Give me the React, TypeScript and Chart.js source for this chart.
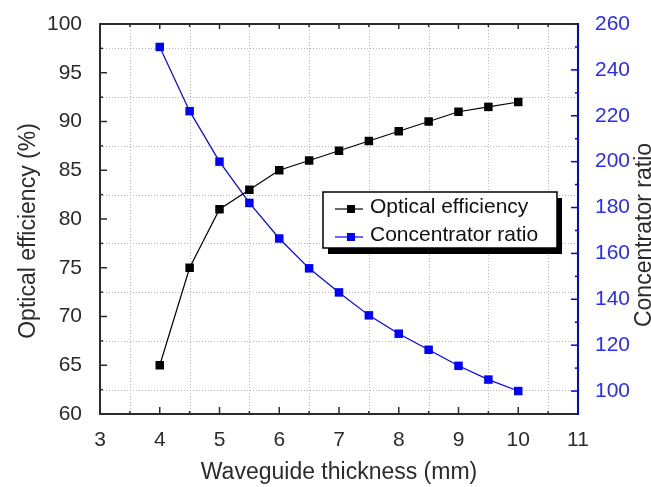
import React, { useEffect, useRef } from "react";
import { Chart, registerables } from "chart.js";

Chart.register(...registerables);

// ---- data ----
const thickness = [4, 4.5, 5, 5.5, 6, 6.5, 7, 7.5, 8, 8.5, 9, 9.5, 10];
const opticalEfficiency = [65, 75, 81, 83, 85, 86, 87, 88, 89, 90, 91, 91.5, 92];
const concentratorRatio = [250, 222, 200, 182, 166.5, 153.5, 143, 133, 125, 118, 111, 105, 100];

const xTickValues = [3, 4, 5, 6, 7, 8, 9, 10, 11];
const leftTickValues = [60, 65, 70, 75, 80, 85, 90, 95, 100];
const rightTickValues = [100, 120, 140, 160, 180, 200, 220, 240, 260];

const xTitle = "Waveguide thickness (mm)";
const leftTitle = "Optical efficiency (%)";
const rightTitle = "Concentrator ratio";
const seriesNames = ["Optical efficiency", "Concentrator ratio"];

const FONT = "'Liberation Sans', Arial, sans-serif";
const BLUE = "#0000ff";
const BLUE_TEXT = "#2a2aff";
const DARK = "#2b2b2b";

const framePlugin = {
  id: "originFrame",
  beforeDatasetsDraw(chart: any) {
    const { ctx, chartArea: a, scales } = chart;
    const x = scales.x, y = scales.y, y2 = scales.y2;
    ctx.save();
    // dotted grid at minor positions
    ctx.strokeStyle = "#b8b8b8";
    ctx.lineWidth = 1;
    ctx.setLineDash([1, 2]);
    for (let v = 3.5; v < 11; v += 1) {
      const px = Math.round(x.getPixelForValue(v)) + 0.5;
      ctx.beginPath(); ctx.moveTo(px, a.top); ctx.lineTo(px, a.bottom); ctx.stroke();
    }
    for (let v = 62.5; v < 100; v += 5) {
      const py = Math.round(y.getPixelForValue(v)) + 0.5;
      ctx.beginPath(); ctx.moveTo(a.left, py); ctx.lineTo(a.right, py); ctx.stroke();
    }
    ctx.setLineDash([]);
    // ticks (inward)
    ctx.strokeStyle = DARK;
    ctx.lineWidth = 1.5;
    for (let v = 3; v <= 11; v += 0.5) {
      const px = x.getPixelForValue(v);
      const major = Number.isInteger(v);
      ctx.beginPath(); ctx.moveTo(px, a.bottom); ctx.lineTo(px, a.bottom - (major ? 7 : 3)); ctx.stroke();
      ctx.beginPath(); ctx.moveTo(px, a.top); ctx.lineTo(px, a.top + (major ? 5 : 3)); ctx.stroke();
    }
    for (let v = 60; v <= 100; v += 2.5) {
      const py = y.getPixelForValue(v);
      const major = v % 5 === 0;
      ctx.beginPath(); ctx.moveTo(a.left, py); ctx.lineTo(a.left + (major ? 7 : 3), py); ctx.stroke();
    }
    ctx.strokeStyle = BLUE;
    for (let v = 90; v <= 260; v += 10) {
      const py = y2.getPixelForValue(v);
      const major = v % 20 === 0;
      ctx.beginPath(); ctx.moveTo(a.right, py); ctx.lineTo(a.right - (major ? 7 : 3), py); ctx.stroke();
    }
    // frame
    ctx.strokeStyle = DARK;
    ctx.lineWidth = 2;
    ctx.beginPath();
    ctx.moveTo(a.right, a.top);
    ctx.lineTo(a.left, a.top);
    ctx.lineTo(a.left, a.bottom);
    ctx.lineTo(a.right, a.bottom);
    ctx.stroke();
    ctx.strokeStyle = BLUE;
    ctx.beginPath();
    ctx.moveTo(a.right, a.top - 1);
    ctx.lineTo(a.right, a.bottom + 1);
    ctx.stroke();
    ctx.restore();
  },
  afterDraw(chart: any) {
    const { ctx, chartArea: a } = chart;
    ctx.save();
    // axis titles
    ctx.fillStyle = DARK;
    ctx.font = `23px ${FONT}`;
    ctx.textAlign = "center";
    ctx.textBaseline = "alphabetic";
    ctx.fillText(xTitle, (a.left + a.right) / 2, 479);
    ctx.save();
    ctx.translate(35, 231);
    ctx.rotate(-Math.PI / 2);
    ctx.fillText(leftTitle, 0, 0);
    ctx.restore();
    ctx.save();
    ctx.translate(651, 235);
    ctx.rotate(-Math.PI / 2);
    ctx.fillText(rightTitle, 0, 0);
    ctx.restore();

    // legend box with shadow
    const lx = 323, ly = 192, lw = 234, lh = 56;
    ctx.fillStyle = "#000";
    ctx.fillRect(lx + 5, ly + 6, lw, lh);
    ctx.fillStyle = "#fff";
    ctx.fillRect(lx, ly, lw, lh);
    ctx.strokeStyle = "#000";
    ctx.lineWidth = 1.5;
    ctx.strokeRect(lx, ly, lw, lh);
    const rows = [
      { name: seriesNames[0], color: "#000", yc: 209 },
      { name: seriesNames[1], color: BLUE, yc: 237 },
    ];
    rows.forEach((r) => {
      ctx.strokeStyle = r.color;
      ctx.lineWidth = 1.2;
      ctx.beginPath(); ctx.moveTo(335, r.yc); ctx.lineTo(363, r.yc); ctx.stroke();
      ctx.fillStyle = r.color;
      ctx.fillRect(347, r.yc - 4, 8, 8);
      ctx.fillStyle = "#111";
      ctx.font = `21px ${FONT}`;
      ctx.textAlign = "left";
      ctx.textBaseline = "middle";
      ctx.fillText(r.name, 370, r.yc - 2);
    });
    ctx.restore();
  },
};

export default function App() {
  const ref = useRef<HTMLCanvasElement | null>(null);
  useEffect(() => {
    document.body.style.margin = "0";
    const canvas = ref.current!;
    const chart = new Chart(canvas, {
      type: "line",
      data: {
        datasets: [
          {
            label: seriesNames[0],
            data: thickness.map((t, i) => ({ x: t, y: opticalEfficiency[i] })),
            borderColor: "#000",
            backgroundColor: "#000",
            borderWidth: 1.2,
            pointStyle: "rect",
            pointRadius: 6,
            pointBorderWidth: 0,
            yAxisID: "y",
          },
          {
            label: seriesNames[1],
            data: thickness.map((t, i) => ({ x: t, y: concentratorRatio[i] })),
            borderColor: BLUE,
            backgroundColor: BLUE,
            borderWidth: 1.2,
            pointStyle: "rect",
            pointRadius: 6,
            pointBorderWidth: 0,
            yAxisID: "y2",
          },
        ],
      },
      options: {
        animation: false,
        responsive: false,
        maintainAspectRatio: false,
        layout: { padding: { top: 24, left: 0, right: 0, bottom: 0 } },
        plugins: { legend: { display: false }, tooltip: { enabled: false } },
        scales: {
          x: {
            type: "linear",
            position: "bottom",
            min: 3,
            max: 11,
            grid: { display: false },
            border: { display: false },
            afterBuildTicks: (s: any) => { s.ticks = xTickValues.map((v) => ({ value: v })); },
            afterFit: (s: any) => { s.height = 73; },
            ticks: { font: { family: FONT, size: 21 }, color: DARK, padding: 6, maxRotation: 0, autoSkip: false },
          },
          y: {
            type: "linear",
            position: "left",
            min: 60,
            max: 100,
            grid: { display: false },
            border: { display: false },
            afterBuildTicks: (s: any) => { s.ticks = leftTickValues.map((v) => ({ value: v })); },
            afterFit: (s: any) => { s.width = 100; },
            ticks: { font: { family: FONT, size: 21 }, color: DARK, padding: 10, autoSkip: false },
          },
          y2: {
            type: "linear",
            position: "right",
            min: 90,
            max: 260,
            grid: { display: false },
            border: { display: false },
            afterBuildTicks: (s: any) => { s.ticks = rightTickValues.map((v) => ({ value: v })); },
            afterFit: (s: any) => { s.width = 73; },
            ticks: { font: { family: FONT, size: 21 }, color: BLUE_TEXT, padding: 9, autoSkip: false },
          },
        },
      },
      plugins: [framePlugin],
    });
    return () => chart.destroy();
  }, []);
  return (
    <div style={{ position: "absolute", left: 0, top: 0, width: 651, height: 487, background: "#fff" }}>
      <canvas ref={ref} width={651} height={487} style={{ width: 651, height: 487 }} />
    </div>
  );
}
